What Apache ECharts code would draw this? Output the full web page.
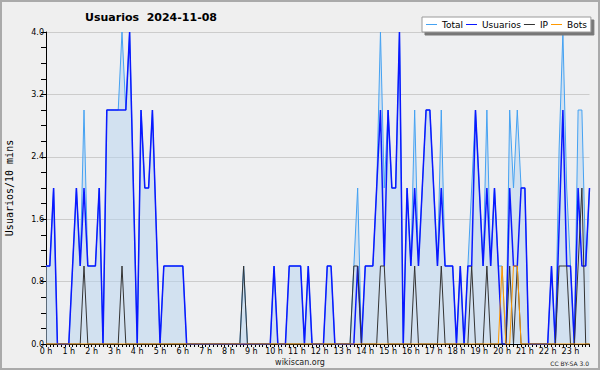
<!DOCTYPE html>
<html><head><meta charset="utf-8">
<script src="https://cdn.jsdelivr.net/npm/echarts@6/dist/echarts.min.js"></script>
<style>html,body{margin:0;padding:0;background:#efefef}#c{width:600px;height:370px}</style>
</head><body><div id="c"></div><script>
const hourLabels = ['0 h','1 h','2 h','3 h','4 h','5 h','6 h','7 h','8 h','9 h','10 h','11 h','12 h','13 h','14 h','15 h','16 h','17 h','18 h','19 h','20 h','21 h','22 h','23 h'];
const yTickLabels = ['0.0','0.8','1.6','2.4','3.2','4.0'];
const seriesNames = ['Total','Usuarios','IP','Bots'];
// 10-minute slots, 144 per day
const total = [
 1,1,2,0,0,0,0,1,2,1,3,1,
 1,1,2,0,3,3,3,3,4,3,4,2,
 0,3,2,2,3,1.5,0,1,1,1,1,1,
 1,0,0,0,0,0,0,0,0,0,0,0,
 0,0,0,0,1,0,0,0,0,0,0,0,
 1,0,0,0,1,1,1,1,0,1,0,0,
 0,0,1,1,0,0,0,0,0,1,2,0,
 1,1,1,2,4,2,3,2,2,4,0,2,
 1,3,1,2,3,3,2,1,3,1,1,1,
 0,1,0,1,2,3,2,1,3,1,2,1,
 1,0,3,2,3,2,2,0,0,0,0,0,
 0,1,0,2.5,4,2,1,0,3,3,1,2
];
const usuarios = [
 1,1,2,0,0,0,0,1,2,1,2,1,
 1,1,2,0,3,3,3,3,3,3,4,2,
 0,3,2,2,3,1.5,0,1,1,1,1,1,
 1,0,0,0,0,0,0,0,0,0,0,0,
 0,0,0,0,0,0,0,0,0,0,0,0,
 1,0,0,0,1,1,1,1,0,1,0,0,
 0,0,1,1,0,0,0,0,0,0,1,0,
 1,1,1,2,3,1,3,2,2,4,0,2,
 1,2,1,2,3,3,2,1,2,1,1,1,
 0,1,0,1,1,3,2,1,2,1,2,1,
 0,0,2,1,1,2,2,0,0,0,0,0,
 0,1,0,1.5,3,1,1,0,2,1,1,2
];
const ip = [
 0,0,0,0,0,0,0,0,0,0,1,0,
 0,0,0,0,0,0,0,0,1,0,0,0,
 0,0,0,0,0,0,0,0,0,0,0,0,
 0,0,0,0,0,0,0,0,0,0,0,0,
 0,0,0,0,1,0,0,0,0,0,0,0,
 0,0,0,0,0,0,0,0,0,0,0,0,
 0,0,0,0,0,0,0,0,0,1,1,0,
 0,0,0,0,1,1,0,0,0,0,0,0,
 0,1,0,0,0,0,0,0,1,0,0,0,
 0,0,0,0,1,0,0,0,1,0,0,0,
 0,0,1,0,1,0,0,0,0,0,0,0,
 0,0,0,1,1,1,0,0,1,2,0,0
];
const bots = [
 0,0,0,0,0,0,0,0,0,0,0,0,
 0,0,0,0,0,0,0,0,0,0,0,0,
 0,0,0,0,0,0,0,0,0,0,0,0,
 0,0,0,0,0,0,0,0,0,0,0,0,
 0,0,0,0,0,0,0,0,0,0,0,0,
 0,0,0,0,0,0,0,0,0,0,0,0,
 0,0,0,0,0,0,0,0,0,0,0,0,
 0,0,0,0,0,0,0,0,0,0,0,0,
 0,0,0,0,0,0,0,0,0,0,0,0,
 0,0,0,0,0,0,0,0,0,0,0,0,
 1,0,0,1,1,0,0,0,0,0,0,0,
 0,0,0,0,0,0,0,0,0,0,0,0
];
const categories = total.map((_, i) => (i % 6 === 0 ? hourLabels[i / 6] : ''));

const FONT = 'DejaVu Sans';
const chart = echarts.init(document.getElementById('c'), null, {renderer: 'svg'});
chart.setOption({
  backgroundColor: '#efefef',
  animation: false,
  textStyle: {fontFamily: FONT},
  grid: {left: 46, right: 10.5, top: 32, bottom: 26, show: true, backgroundColor: '#eeeff1', borderWidth: 0,
         containLabel: false, outerBoundsMode: 'none'},
  legend: {
    data: seriesNames, left: 422, top: 17, padding: [3, 4, 3, 4], itemGap: 3,
    itemWidth: 11, itemHeight: 1, icon: 'rect',
    backgroundColor: '#ffffff', borderColor: '#9a9a9a', borderWidth: 1,
    shadowColor: '#777777', shadowOffsetX: 3, shadowOffsetY: 3, shadowBlur: 0.01,
    textStyle: {fontFamily: FONT, fontSize: 9, color: '#000', padding: [0, 0, 0, 0]}
  },
  graphic: [
    {type: 'rect', shape: {x: 1, y: 1, width: 598, height: 368}, style: {fill: 'none', stroke: '#aaaaaa', lineWidth: 2}, silent: true},
    {type: 'text', x: 151, y: 17, style: {text: 'Usuarios  2024-11-08', font: 'bold 11px "DejaVu Sans"', fill: '#000', align: 'center', verticalAlign: 'middle'}},
    {type: 'text', x: 300, y: 362, style: {text: 'wikiscan.org', font: '8px "DejaVu Sans"', fill: '#222', align: 'center', verticalAlign: 'middle'}},
    {type: 'text', x: 589, y: 363, style: {text: 'CC BY-SA 3.0', font: '6px "DejaVu Sans"', fill: '#222', align: 'right', verticalAlign: 'middle'}}
  ],
  xAxis: {
    type: 'category', data: categories, boundaryGap: false,
    axisLine: {lineStyle: {color: '#000', width: 1}},
    axisTick: {interval: 0, length: 3, lineStyle: {color: '#000'}},
    axisLabel: {interval: 0, fontSize: 8, color: '#000', margin: 3, fontFamily: FONT},
    splitLine: {show: false}
  },
  yAxis: {
    type: 'value', min: 0, max: 4, interval: 0.8,
    name: 'Usuarios/10 mins', nameLocation: 'middle', nameGap: 32, nameRotate: 90,
    nameTextStyle: {fontSize: 10, fontFamily: 'DejaVu Sans Mono', color: '#000'},
    axisLine: {show: true, lineStyle: {color: '#000'}},
    axisTick: {show: true, length: 5, lineStyle: {color: '#000'}},
    minorTick: {show: true, splitNumber: 4, length: 5, lineStyle: {color: '#000'}},
    axisLabel: {fontSize: 8, color: '#000', margin: 2, fontFamily: FONT, formatter: (v, i) => yTickLabels[i]},
    splitLine: {lineStyle: {color: '#cccccc', width: 1}}
  },
  series: [
    {name: seriesNames[0], type: 'line', data: total, symbol: 'none', z: 2,
     lineStyle: {color: '#45a2f2', width: 1}, itemStyle: {color: '#45a2f2'},
     areaStyle: {color: 'rgba(181,212,240,0.72)'}},
    {name: seriesNames[1], type: 'line', data: usuarios, symbol: 'none', z: 3,
     lineStyle: {color: '#0a18ff', width: 1.5}, itemStyle: {color: '#0a18ff'}},
    {name: seriesNames[2], type: 'line', data: ip, symbol: 'none', z: 4,
     lineStyle: {color: '#333333', width: 1}, itemStyle: {color: '#333333'}},
    {name: seriesNames[3], type: 'line', data: bots, symbol: 'none', z: 5,
     lineStyle: {color: '#ff9900', width: 1}, itemStyle: {color: '#ff9900'}}
  ]
});
</script></body></html>
